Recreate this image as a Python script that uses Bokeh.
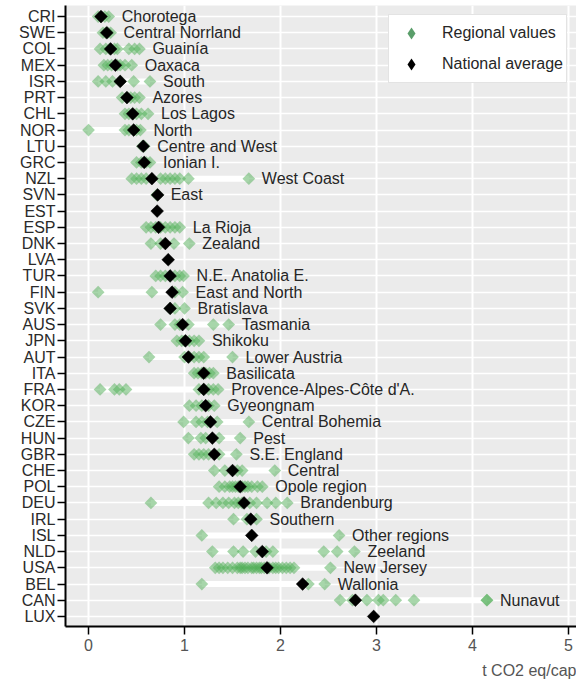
import numpy as np
from bokeh.plotting import figure
from bokeh.models import Range1d, FixedTicker, Legend, LegendItem, Title
from bokeh.core.properties import value
from bokeh.embed import file_html
from bokeh.resources import INLINE

countries = ["CRI", "SWE", "COL", "MEX", "ISR", "PRT", "CHL", "NOR", "LTU", "GRC",
             "NZL", "SVN", "EST", "ESP", "DNK", "LVA", "TUR", "FIN", "SVK", "AUS",
             "JPN", "AUT", "ITA", "FRA", "KOR", "CZE", "HUN", "GBR", "CHE", "POL",
             "DEU", "IRL", "ISL", "NLD", "USA", "BEL", "CAN", "LUX"]

national = [0.13, 0.19, 0.23, 0.28, 0.33, 0.40, 0.46, 0.47, 0.57, 0.58,
            0.66, 0.72, 0.715, 0.73, 0.80, 0.83, 0.85, 0.87, 0.85, 0.98,
            1.01, 1.04, 1.20, 1.20, 1.22, 1.27, 1.29, 1.31, 1.50, 1.58,
            1.62, 1.69, 1.70, 1.81, 1.86, 2.23, 2.78, 2.97]

regional = [
    [0.10, 0.13, 0.17, 0.21],                                   # CRI
    [0.15, 0.18, 0.20, 0.23],                                   # SWE
    [0.12, 0.18, 0.22, 0.27, 0.30, 0.42, 0.48, 0.53],           # COL
    [0.16, 0.20, 0.24, 0.30, 0.33, 0.38, 0.45],                 # MEX
    [0.10, 0.18, 0.25, 0.33, 0.47, 0.64],                       # ISR
    [0.35, 0.40, 0.44, 0.48, 0.53],                             # PRT
    [0.38, 0.42, 0.46, 0.50, 0.55, 0.62],                       # CHL
    [0.00, 0.38, 0.42, 0.47, 0.50, 0.54],                       # NOR
    [0.56, 0.58],                                               # LTU
    [0.50, 0.55, 0.60, 0.64],                                   # GRC
    [0.45, 0.50, 0.55, 0.60, 0.75, 0.80, 0.85, 0.90, 0.95, 1.04, 1.67],  # NZL
    [0.71, 0.72],                                               # SVN
    [],                                                         # EST
    [0.60, 0.65, 0.70, 0.75, 0.80, 0.85, 0.90, 0.95],           # ESP
    [0.65, 0.75, 0.89, 1.05],                                   # DNK
    [],                                                         # LVA
    [0.70, 0.75, 0.80, 0.85, 0.90, 0.95, 0.99],                 # TUR
    [0.10, 0.66, 0.90, 0.98],                                   # FIN
    [0.85, 0.90, 1.00],                                         # SVK
    [0.75, 0.90, 0.95, 1.04, 1.30, 1.46],                       # AUS
    [0.92, 0.97, 1.00, 1.05, 1.10, 1.15],                       # JPN
    [0.63, 1.00, 1.05, 1.10, 1.15, 1.20, 1.50],                 # AUT
    [1.10, 1.14, 1.18, 1.22, 1.26, 1.30],                       # ITA
    [0.12, 0.27, 0.32, 0.39, 1.15, 1.20, 1.25, 1.30, 1.35],     # FRA
    [1.05, 1.12, 1.18, 1.25, 1.31],                             # KOR
    [0.99, 1.12, 1.18, 1.24, 1.34, 1.67],                       # CZE
    [1.04, 1.17, 1.22, 1.36, 1.58],                             # HUN
    [1.10, 1.15, 1.20, 1.25, 1.36, 1.54],                       # GBR
    [1.31, 1.42, 1.55, 1.60, 1.94],                             # CHE
    [1.36, 1.42, 1.47, 1.50, 1.53, 1.56, 1.60, 1.63, 1.66, 1.70, 1.76, 1.81],  # POL
    [0.65, 1.25, 1.33, 1.40, 1.46, 1.52, 1.56, 1.60, 1.68, 1.75, 1.86, 1.95, 2.07],  # DEU
    [1.51, 1.65, 1.75],                                         # IRL
    [1.18, 2.61],                                               # ISL
    [1.29, 1.51, 1.61, 1.74, 1.85, 1.92, 2.45, 2.59, 2.77],     # NLD
    [1.32, 1.36, 1.40, 1.45, 1.50, 1.55, 1.58, 1.60, 1.63, 1.66, 1.70, 1.72,
     1.75, 1.78, 1.80, 1.83, 1.88, 1.92, 1.95, 1.98, 2.02, 2.06, 2.10, 2.14, 2.52],  # USA
    [1.18, 2.29, 2.46],                                         # BEL
    [2.62, 2.75, 2.90, 3.02, 3.07, 3.20, 3.39, 4.15, 4.15],     # CAN
    [],                                                         # LUX
]

top_region = ["Chorotega", "Central Norrland", "Guainía", "Oaxaca", "South", "Azores",
              "Los Lagos", "North", "Centre and West", "Ionian I.", "West Coast", "East",
              "", "La Rioja", "Zealand", "", "N.E. Anatolia E.", "East and North",
              "Bratislava", "Tasmania", "Shikoku", "Lower Austria", "Basilicata",
              "Provence-Alpes-Côte d'A.", "Gyeongnam", "Central Bohemia", "Pest",
              "S.E. England", "Central", "Opole region", "Brandenburg", "Southern",
              "Other regions", "Zeeland", "New Jersey", "Wallonia", "Nunavut", ""]

x_ticks = [0, 1, 2, 3, 4, 5]
x_unit = "t CO2 eq/cap"

FONT = "Liberation Sans"
GREEN = "#4fae55"

n = len(countries)
ys = list(range(n))

p = figure(width=576, height=685,
           x_range=Range1d(-0.24, 5.083), y_range=Range1d(37.62, -0.68),
           output_backend="svg", toolbar_location=None,
           min_border_left=65, min_border_right=0, min_border_top=5, min_border_bottom=10)

p.background_fill_color = "#ebebeb"
p.border_fill_color = "white"
p.outline_line_color = None

# range bars
bx0, bx1, by = [], [], []
for i in range(n):
    if regional[i]:
        vals = regional[i] + [national[i]]
        bx0.append(min(vals)); bx1.append(max(vals)); by.append(i)
p.segment(x0=bx0, y0=by, x1=bx1, y1=by, line_color="white", line_width=6)

# regional points
rx, ry = [], []
for i in range(n):
    for v in regional[i]:
        rx.append(v); ry.append(i)
p.scatter(x=rx, y=ry, marker="square", angle=np.pi / 4, size=9,
          fill_color=GREEN, fill_alpha=0.5, line_color=None)

# national averages
p.scatter(x=national, y=ys, marker="square", angle=np.pi / 4, size=9,
          fill_color="black", line_color="black", line_width=0.5)

# hidden glyphs used only to draw the legend keys
lg_g = p.scatter(x=rx[:1], y=ry[:1], marker="diamond", size=15,
                 fill_color="#5a9e6a", line_color=None, visible=False)
lg_b = p.scatter(x=national[:1], y=ys[:1], marker="diamond", size=15,
                 fill_color="black", line_color=None, visible=False)

# labels of top region
lx, ly, lt = [], [], []
for i in range(n):
    if top_region[i]:
        lx.append(max(regional[i])); ly.append(i); lt.append(top_region[i])
p.text(x=lx, y=ly, text=lt, x_offset=13, text_baseline="middle", text_align="left",
       text_font=value(FONT), text_font_size="16px", text_color="#262626")

# axes
p.yaxis.ticker = FixedTicker(ticks=ys)
p.yaxis.major_label_overrides = {i: c for i, c in enumerate(countries)}
p.xaxis.ticker = FixedTicker(ticks=x_ticks)
p.axis.minor_tick_line_color = None
p.axis.axis_line_color = "black"
p.axis.axis_line_width = 2
p.axis.major_tick_line_color = "black"
p.axis.major_tick_line_width = 1.5
p.axis.major_tick_out = 8
p.axis.major_tick_in = 0
p.yaxis.major_label_standoff = 2
p.yaxis.major_label_text_font = FONT
p.yaxis.major_label_text_font_size = "16px"
p.yaxis.major_label_text_color = "#2a2a2a"
p.xaxis.major_label_text_font = FONT
p.xaxis.major_label_text_font_size = "16px"
p.xaxis.major_label_text_color = "#555555"
p.xaxis.major_label_standoff = 4

p.xgrid.grid_line_color = "white"
p.xgrid.grid_line_width = 2
p.ygrid.grid_line_color = "white"
p.ygrid.grid_line_width = 1.5

p.add_layout(Title(text=x_unit, align="right", text_font=FONT, text_font_size="16px",
                   text_font_style="normal", text_color="#555555", standoff=13), "below")

legend = Legend(items=[LegendItem(label="Regional values", renderers=[lg_g]),
                       LegendItem(label="National average", renderers=[lg_b])],
                location=(323, 543), margin=0, padding=3, spacing=1,
                glyph_width=38, glyph_height=30, label_height=30, label_standoff=12,
                label_text_font=FONT, label_text_font_size="16px",
                label_text_color="#262626", border_line_color="#c8c8c8",
                background_fill_color="white", background_fill_alpha=1)
p.add_layout(legend)

open("out.html", "w").write(file_html(p, INLINE))
